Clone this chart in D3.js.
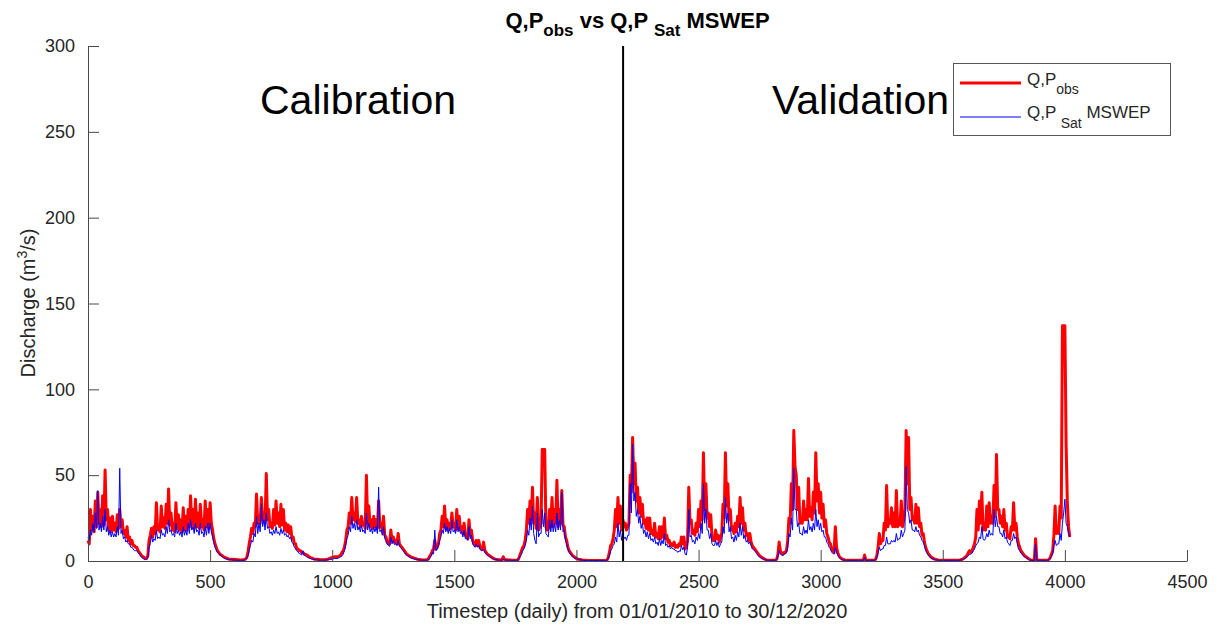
<!DOCTYPE html>
<html><head><meta charset="utf-8">
<script src="https://cdn.jsdelivr.net/npm/d3@7"></script>
<style>
body{margin:0;background:#fff}
svg{display:block;font-family:"Liberation Sans",Arial,Helvetica,sans-serif}
</style>
</head><body>
<svg id="chart" width="1217" height="628"></svg>
<script>
// sampling interval of the series (days); peaks read at day 0,10,20,... troughs at day 5,15,25,...
const stepDays = 10;
// Q,P obs (red) – discharge m3/s, upper readings every 10 days from day 0
const obsQ = [
12,30,26,35,40,30,38,53,30,25,
26,22,27,30,24,18,20,14,12,9,
8,5,3,2,1.5,12,19,20,34,20,
32,25,33,42,28,22,34,27,24,31,
26,30,38,30,36,28,33,24,35,30,
34,18,10,6,4,3,2,1.5,1,1,
1,0.8,0.6,0.6,0.8,2,10,19,22,39,
26,37,28,51,30,22,30,35,28,33,
30,22,21,20,14,10,7,6,5,4,
3,2,1.5,1,1,0.8,0.8,0.8,1,1.5,
2,2.5,2.5,3,5,8,18,28,37,28,
37,24,26,22,50,32,24,26,24,35,
22,26,14,10,18,14,12,16,9,7,
5,3.5,2.5,2,1.5,1,0.8,0.6,0.6,0.8,
3,6,12,8,16,26,32,24,22,28,
22,30,26,20,22,14,24,18,10,12,
12,7,11,5,3.5,2.5,1.5,1,0.8,0.6,
2.5,0.8,0.6,0.6,0.5,0.5,0.6,4,8,12,
30,35,43,28,37,20,65,65,18,30,
37,30,47,30,41,20,12,6,4,2.5,
1.5,1,0.8,0.5,0.4,0.3,0.3,0.3,0.3,0.3,
0.3,0.3,0.3,2,9,13,30,37,32,24,
22,20,50,72,57,43,37,33,24,25,
25,18,22,16,20,20,25,15,12,10,
11,9,10,14,14,8,43,24,18,22,
30,35,63,45,28,27,12,18,15,14,
33,63,45,30,20,22,26,37,31,22,
16,16,9,7,5,3,2,1.2,0.6,0.5,
0.5,0.5,1,11,4.5,5,6,25,45,76,
50,43,24,35,30,48,31,40,63,45,
40,33,24,14,10,6,20,5,2,1,
0.6,0.5,0.5,0.5,0.5,0.5,0.5,0.5,3.5,0.5,
0.5,0.5,0.5,3,16,12,22,44,24,31,
28,41,24,35,24,76,72,37,26,33,
31,22,16,8,4.5,2.5,1.5,1,0.6,0.5,
0.5,0.5,0.5,0.5,0.5,0.5,0.5,0.6,1,2,
3.5,6,6,10,30,35,40,20,32,34,
26,44,62,30,26,30,22,14,20,34,
22,10,6,4,2.5,1.5,0.6,0.5,13,0.5,
0.5,0.5,0.5,0.6,2,6,32,18,32,137,
137,34,14
];
// Q,P obs lower readings (days 5,15,25,...)
const obsLow = [
10,18,17,20,22,20,21,24,18,17,
18,17,19,20,16,14,12,10,9,8,
6,4,2.5,1.5,3,15,14,16,18,17,
20,19,22,21,18,17,19,18,17,18,
18,20,21,19,20,19,20,18,20,19,
22,13,8,5,3.5,2.5,1.8,1.2,1,0.9,
0.9,0.7,0.6,0.7,1.2,5,14,16,20,22,
22,24,22,24,20,19,21,22,20,21,
18,17,16,13,10,7,6,5,4,3.5,
2.5,1.8,1.2,1,0.9,0.8,0.8,0.9,1.2,1.8,
2.2,2.3,2.6,3.5,6,12,20,22,24,23,
22,20,21,19,22,20,19,20,19,20,
18,15,11,10,12,11,10,10,8,6,
4,3,2.2,1.7,1.2,0.9,0.7,0.6,0.7,1.5,
4,7,7,10,18,20,19,18,19,20,
18,19,18,16,15,13,15,12,9,9,
8,7,6,4,3,2,1.2,0.9,0.7,0.6,
1,0.7,0.6,0.5,0.5,0.5,2,6,9,18,
22,24,22,19,18,22,65,20,19,20,
20,22,20,22,21,14,8,5,3,2,
1.2,0.9,0.6,0.4,0.3,0.3,0.3,0.3,0.3,0.3,
0.3,0.3,0.5,5,10,18,20,22,18,20,
18,22,40,45,35,28,26,22,19,18,
16,15,14,13,13,14,13,11,9,9,
8,8,9,10,7,12,22,16,15,17,
20,24,30,25,20,14,12,13,11,16,
25,32,24,18,16,17,20,22,18,15,
12,11,8,6,4,2.5,1.5,0.8,0.5,0.5,
0.5,0.6,4,6,4,5,12,22,30,55,
30,22,22,24,24,26,24,28,35,28,
25,20,16,11,7,5,8,3,1.5,0.8,
0.5,0.5,0.5,0.5,0.5,0.5,0.5,0.5,0.5,0.5,
0.5,0.5,1,8,10,12,18,20,22,20,
20,20,21,20,30,45,30,24,22,22,
20,15,11,6,3.5,2,1.2,0.8,0.5,0.5,
0.5,0.5,0.5,0.5,0.5,0.5,0.5,0.8,1.5,2.5,
5,5,8,14,18,22,18,18,20,22,
22,26,30,22,20,18,14,13,18,18,
14,8,5,3,2,1,0.5,0.5,0.5,0.5,
0.5,0.5,0.5,1,4,15,16,16,25,137,
68,20
];
// Q,P Sat MSWEP (blue) – upper readings every 10 days from day 0
const satQ = [
14,18,22,28,41,22,26,30,20,18,
17,16,20,54,18,14,12,10,8,6,
6,4,2,1,1,8,15,13,18,14,
18,16,20,24,18,16,22,18,17,20,
18,22,24,20,22,18,22,17,20,22,
22,14,8,5,3.5,2.5,1.5,1,0.8,0.6,
0.6,0.5,0.4,0.4,0.5,1.5,6,12,16,26,
22,33,24,28,20,17,18,20,17,19,
18,16,15,14,10,7,5,4,6,3,
2,1.5,1,0.8,0.6,0.5,0.5,0.5,0.7,1,
1,1.5,1.5,2,3,6,13,20,26,22,
24,20,21,18,28,22,19,20,20,43,
18,20,12,9,14,12,10,12,8,6,
4,3,2,1.5,1,0.8,0.6,0.5,0.5,0.6,
2,5,18,7,12,18,22,20,19,24,
18,24,20,17,18,13,20,15,9,10,
9,6,7,4,3,2,1.2,0.8,0.6,0.5,
1,0.6,0.5,0.5,0.4,0.4,0.5,3,6,9,
18,25,32,12,28,16,30,28,15,24,
24,22,28,24,40,18,10,5,3.5,2,
1.2,0.8,0.6,0.4,0.3,0.3,0.3,0.3,0.3,0.3,
0.3,0.3,0.3,1.5,6,9,14,22,18,16,
14,15,45,68,40,30,26,22,18,17,
16,13,14,11,13,12,16,10,9,8,
7,6,6,9,8,3.5,30,15,12,14,
16,22,45,30,18,16,9,12,11,10,
20,37,28,20,14,15,17,22,20,15,
12,11,7,6,4,2.5,1.5,1,0.5,0.4,
0.4,0.4,0.8,6,3.5,4,5,16,25,54,
30,22,16,20,18,24,20,22,30,24,
22,18,14,10,7,4.5,8,3.5,1.5,0.8,
0.5,0.4,0.4,0.4,0.4,0.4,0.4,0.4,2,0.4,
0.4,0.4,0.4,2,8,7,9,14,10,12,
12,16,13,18,16,55,28,24,18,20,
18,14,11,6,3.5,2,1.2,0.8,0.5,0.4,
0.4,0.4,0.4,0.4,0.4,0.4,0.4,0.5,0.8,1.5,
2.5,4,4.5,7,10,14,20,12,16,18,
16,30,26,20,16,18,14,10,12,16,
14,7,4.5,3,2,1,0.5,0.4,10,0.4,
0.4,0.4,0.4,0.5,1.5,4,12,10,16,22,
36,20,14
];
// Q,P Sat MSWEP lower readings (days 5,15,25,...)
const satLow = [
12,15,17,19,18,17,18,17,15,14,
14,14,15,16,13,11,10,8,7,6,
5,3,1.5,0.8,2,10,11,12,13,13,
15,14,16,17,15,14,16,15,14,15,
15,16,18,16,17,15,16,14,15,16,
17,11,6.5,4.5,3,2,1.2,0.9,0.7,0.6,
0.5,0.4,0.4,0.4,0.8,3,9,11,14,16,
17,20,18,19,16,15,16,16,15,16,
15,14,13,11,8,6,4.5,3.5,3.5,2.5,
1.8,1.2,0.9,0.7,0.5,0.5,0.5,0.6,0.8,1,
1.2,1.4,1.7,2.5,4,9,15,17,19,18,
18,17,17,16,18,17,16,17,16,17,
15,13,10,8.5,10,9.5,9,8.5,7,5,
3.5,2.5,1.7,1.2,0.9,0.7,0.5,0.5,0.5,1,
3,4,6,9,14,16,17,16,16,17,
16,17,16,14,13,12,13,10,8,8,
7,6,5,3.5,2.5,1.6,1,0.7,0.5,0.5,
0.7,0.5,0.5,0.4,0.4,0.4,1.5,4,7,12,
15,18,16,10,14,16,20,16,14,17,
17,17,18,18,17,12,7,4,2.5,1.5,
1,0.7,0.5,0.3,0.3,0.3,0.3,0.3,0.3,0.3,
0.3,0.3,0.4,3,7,10,11,14,12,13,
12,15,28,35,26,22,19,16,14,13,
12,11,10,9,9,10,9,8,7,7,
6,5,5.5,6.5,4,8,14,11,10,12,
13,16,22,18,13,10,9,9,8,11,
16,22,17,13,11,12,14,15,13,11,
10,9,6.5,5,3,2,1.2,0.7,0.4,0.4,
0.4,0.5,3,4,3,4,8,14,18,30,
20,16,15,16,16,18,17,18,20,18,
17,14,11,8,5,4,5,2.5,1,0.6,
0.4,0.4,0.4,0.4,0.4,0.4,0.4,0.4,0.4,0.4,
0.4,0.4,0.8,5,6,7,9,10,10,11,
11,12,13,14,18,30,22,18,17,17,
15,12,9,5,3,1.6,1,0.6,0.4,0.4,
0.4,0.4,0.4,0.4,0.4,0.4,0.4,0.6,1.2,2,
3,4,6,9,11,13,13,13,14,15,
15,20,20,16,14,13,11,9,12,13,
10,6,4,2.5,1.5,0.7,0.4,0.4,0.4,0.4,
0.4,0.4,0.4,0.8,3,9,9,10,12,28,
22,16
];
const xTicks = [0,500,1000,1500,2000,2500,3000,3500,4000,4500];
const yTicks = [0,50,100,150,200,250,300];
const splitDay = 2191;
const periodLabels = ["Calibration","Validation"];

// merge upper and lower readings into one time-ordered list of [day, value]
function toPoints(upper, lower){
  const pts = [];
  upper.forEach((v,i)=>{
    pts.push([i*stepDays, v]);
    if(i < lower.length) pts.push([i*stepDays + stepDays/2, lower[i]]);
  });
  return pts;
}
const obsPts = toPoints(obsQ, obsLow);
const satPts = toPoints(satQ, satLow);

const svg = d3.select("#chart");
const W = 1217, H = 628;
svg.append("rect").attr("width",W).attr("height",H).attr("fill","#fff");

const x = d3.scaleLinear().domain([0,4500]).range([88,1187]);
const y = d3.scaleLinear().domain([0,300]).range([561,46]);

const axisColor = "#4a4a4a", textColor = "#262626";

// period labels
svg.append("text").attr("x",260).attr("y",114).attr("font-size",41).attr("fill","#000").text(periodLabels[0]);
svg.append("text").attr("x",772).attr("y",114).attr("font-size",41).attr("fill","#000").text(periodLabels[1]);

// series
const line = d3.line().x(d=>x(d[0])).y(d=>y(d[1]));
svg.append("path").datum(obsPts).attr("d",line).attr("fill","none")
  .attr("stroke","#ff0000").attr("stroke-width",3).attr("stroke-linejoin","round");
svg.append("path").datum(satPts).attr("d",line).attr("fill","none")
  .attr("stroke","#0000ff").attr("stroke-width",1).attr("stroke-linejoin","round");

// split line
svg.append("line").attr("x1",x(splitDay)).attr("x2",x(splitDay)).attr("y1",y(300)).attr("y2",y(0))
  .attr("stroke","#000").attr("stroke-width",2);

// axes
const gx = svg.append("g").attr("transform","translate(0,561)")
  .call(d3.axisBottom(x).tickValues(xTicks).tickFormat(d3.format("d")).tickSizeInner(-11).tickSizeOuter(0).tickPadding(14));
const gy = svg.append("g").attr("transform","translate(88,0)")
  .call(d3.axisLeft(y).tickValues(yTicks).tickFormat(d3.format("d")).tickSizeInner(-11).tickSizeOuter(0).tickPadding(13));
[gx,gy].forEach(g=>{
  g.select(".domain").attr("stroke",axisColor);
  g.selectAll(".tick line").attr("stroke",axisColor);
  g.selectAll(".tick text").attr("fill",textColor).attr("font-size",18).attr("font-family","Liberation Sans, Arial, sans-serif");
});

// axis labels
svg.append("text").attr("x",637).attr("y",618).attr("text-anchor","middle")
  .attr("font-size",20).attr("fill",textColor).text("Timestep (daily) from 01/01/2010 to 30/12/2020");
const yl = svg.append("text").attr("transform","translate(35,303) rotate(-90)").attr("text-anchor","middle")
  .attr("font-size",20).attr("fill",textColor);
yl.append("tspan").text("Discharge (m");
yl.append("tspan").attr("dy",-8).attr("font-size",14).text("3");
yl.append("tspan").attr("dy",8).text("/s)");

// title
const t = svg.append("text").attr("x",637.5).attr("y",28).attr("text-anchor","middle")
  .attr("font-size",22).attr("font-weight","bold").attr("fill","#000");
t.append("tspan").text("Q,P");
t.append("tspan").attr("dy",8).attr("font-size",17).text("obs");
t.append("tspan").attr("dy",-8).text(" vs Q,P ");
t.append("tspan").attr("dy",8).attr("font-size",17).text("Sat");
t.append("tspan").attr("dy",-8).text(" MSWEP");

// legend
const lg = svg.append("g");
lg.append("rect").attr("x",953.5).attr("y",63.5).attr("width",217).attr("height",72)
  .attr("fill","#fff").attr("stroke","#555").attr("stroke-width",1);
lg.append("line").attr("x1",960).attr("x2",1021).attr("y1",83).attr("y2",83).attr("stroke","#ff0000").attr("stroke-width",3);
lg.append("line").attr("x1",960).attr("x2",1021).attr("y1",117).attr("y2",117).attr("stroke","#0000ff").attr("stroke-width",1);
const l1 = lg.append("text").attr("x",1027).attr("y",85).attr("font-size",17).attr("fill",textColor);
l1.append("tspan").text("Q,P");
l1.append("tspan").attr("dy",9).attr("font-size",14).text("obs");
const l2 = lg.append("text").attr("x",1027).attr("y",118).attr("font-size",17).attr("fill",textColor);
l2.append("tspan").text("Q,P ");
l2.append("tspan").attr("dy",10).attr("font-size",14).text("Sat");
l2.append("tspan").attr("dy",-10).text(" MSWEP");
</script>
</body></html>
